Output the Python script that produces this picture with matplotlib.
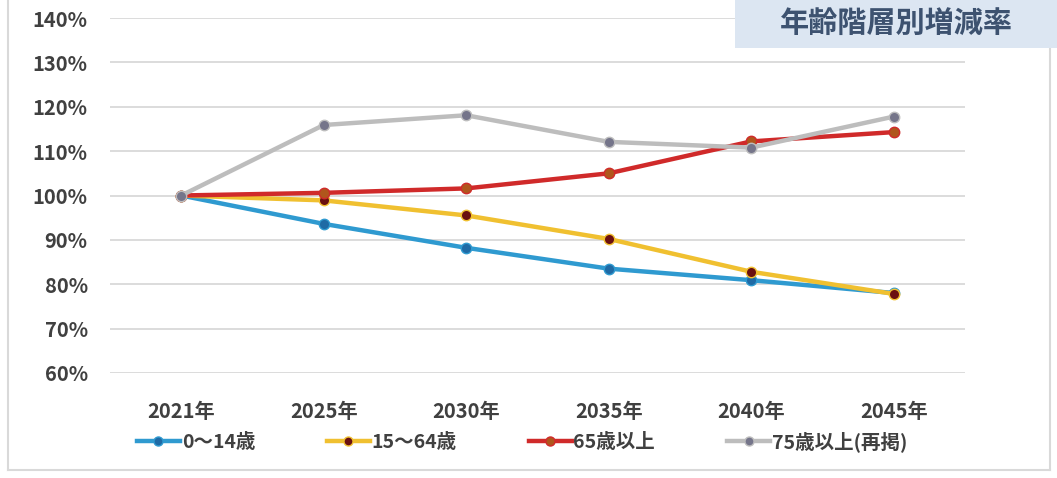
import matplotlib
matplotlib.use("Agg")
import matplotlib.pyplot as plt
from matplotlib.patches import Rectangle
from matplotlib.lines import Line2D

plt.rcParams['font.family'] = ['Noto Sans CJK JP', 'DejaVu Sans']

years = ['2021年', '2025年', '2030年', '2035年', '2040年', '2045年']
age_0_14 = [100.0, 93.6, 88.2, 83.5, 80.9, 78.0]
age_15_64 = [100.0, 98.9, 95.5, 90.2, 82.8, 77.8]
age_65 = [100.0, 100.6, 101.6, 105.0, 112.2, 114.3]
age_75 = [100.0, 115.9, 118.1, 112.1, 110.8, 117.8]
yticks = [60, 70, 80, 90, 100, 110, 120, 130, 140]

series = [
    ('0～14歳', age_0_14, '#2f9ad0', '#1f6aa5'),
    ('15～64歳', age_15_64, '#f0c030', '#6a1010'),
    ('65歳以上', age_65, '#d02a2a', '#b0561c'),
    ('75歳以上(再掲)', age_75, '#bdbdbd', '#75758a'),
]

fig = plt.figure(figsize=(10.57, 4.78), dpi=100)
ax = fig.add_axes([0.104, 0.22, 0.809, 0.742])

x = list(range(len(years)))
for name, vals, col, mcol in series:
    ax.plot(x, vals, color=col, lw=3.2, marker='o', ms=7.5,
            mfc=mcol, mec=col, mew=1.0, label=name, zorder=3)

ax.set_xlim(-0.5, 5.5)
ax.set_ylim(60, 140)
ax.set_yticks(yticks)
ax.set_yticklabels([f'{v}%' for v in yticks])
ax.set_xticks(x)
ax.set_xticklabels(years)
ax.grid(axis='y', color='#d9d9d9', lw=1.3)
ax.set_axisbelow(True)
for s in ax.spines.values():
    s.set_visible(False)
ax.tick_params(length=0, labelsize=14.5, colors='#404040')
ax.tick_params(axis='y', pad=16)
ax.tick_params(axis='x', pad=20)
for t in ax.get_xticklabels() + ax.get_yticklabels():
    t.set_fontweight('bold')

handles = [Line2D([0], [0], color=c, lw=3.2, marker='o', ms=6.5, mfc=m, mec=c)
           for _, _, c, m in series]
leg = fig.legend(handles, [s[0] for s in series], loc='center left',
                 bbox_to_anchor=(0.113, 0.077), ncol=4, frameon=False,
                 handlelength=2.2, handletextpad=0.1, columnspacing=3.7,
                 prop={'size': 14, 'weight': 'bold'})
for t in leg.get_texts():
    t.set_color('#404040')

# outer frame
fig.add_artist(Line2D([0.008, 0.008], [1.0, 0.017], color='#d9d9d9', lw=1.5,
                      transform=fig.transFigure))
fig.add_artist(Line2D([0.008, 0.993], [0.017, 0.017], color='#d9d9d9', lw=1.5,
                      transform=fig.transFigure))
fig.add_artist(Line2D([0.993, 0.993], [0.017, 0.9], color='#d9d9d9', lw=1.5,
                      transform=fig.transFigure))

# title box
fig.add_artist(Rectangle((0.695, 0.9), 0.305, 0.1, transform=fig.transFigure,
                         facecolor='#dce6f2', edgecolor='none', zorder=5))
fig.text(0.848, 0.953, '年齢階層別増減率', ha='center', va='center',
         fontsize=21, fontweight='bold', color='#3d5270', zorder=6)

fig.savefig('out.png', dpi=100)
